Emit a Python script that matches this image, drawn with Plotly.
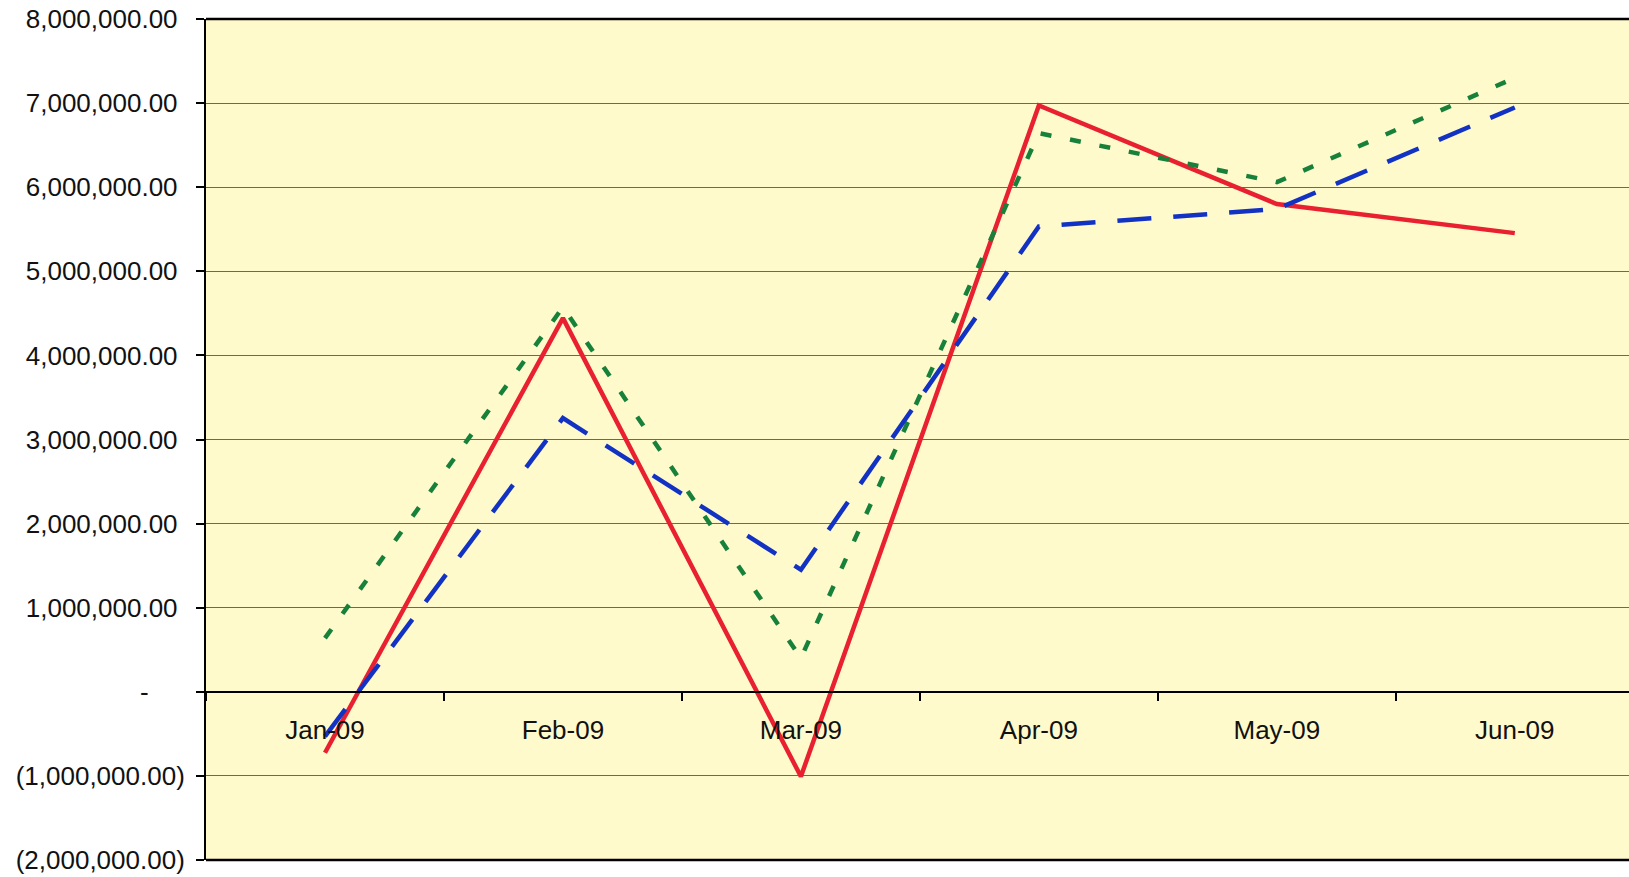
import plotly.graph_objects as go

months = ["Jan-09", "Feb-09", "Mar-09", "Apr-09", "May-09", "Jun-09"]
red_vals = [-725000, 4443000, -1007000, 6971000, 5800000, 5454000]
green_vals = [638000, 4574000, 400000, 6643000, 6060000, 7300000]
blue_vals = [-530000, 3254000, 1451000, 5533000, 5740000, 6948000]

ytick_vals = [8e6, 7e6, 6e6, 5e6, 4e6, 3e6, 2e6, 1e6, 0, -1e6, -2e6]
NB = "\u00a0"
ytick_text = [
    "8,000,000.00" + NB, "7,000,000.00" + NB, "6,000,000.00" + NB,
    "5,000,000.00" + NB, "4,000,000.00" + NB, "3,000,000.00" + NB,
    "2,000,000.00" + NB, "1,000,000.00" + NB, "-" + NB * 5,
    "(1,000,000.00)", "(2,000,000.00)",
]

fig = go.Figure()
fig.add_trace(go.Scatter(x=months, y=red_vals, mode="lines",
                         line=dict(color="#E8202F", width=4.5), name="Series 1"))
fig.add_trace(go.Scatter(x=months, y=green_vals, mode="lines",
                         line=dict(color="#17803A", width=4.5, dash="11px,19px"), name="Series 2"))
fig.add_trace(go.Scatter(x=months, y=blue_vals, mode="lines",
                         line=dict(color="#1232C4", width=4.5, dash="34px,22px"), name="Series 3"))

W, H = 1629, 877
fig.update_layout(
    width=W, height=H,
    margin=dict(l=206, r=0, t=19, b=17),
    paper_bgcolor="white",
    plot_bgcolor="#FFFACB",
    showlegend=False,
    font=dict(family="Liberation Sans, Arial, sans-serif", color="#111111"),
    xaxis=dict(
        type="category",
        range=[-0.5, 5.48],
        anchor="free",
        position=0.2,
        showline=True, linecolor="black", linewidth=2,
        ticks="outside", ticklen=8, tickwidth=1.5, tickcolor="black",
        tickson="boundaries",
        showgrid=False,
        tickfont=dict(size=26, color="#111111"),
        ticklabelstandoff=15,
    ),
    yaxis=dict(
        range=[-2e6, 8e6],
        tickvals=ytick_vals, ticktext=ytick_text,
        showline=True, linecolor="black", linewidth=2,
        ticks="outside", ticklen=8, tickwidth=1.5, tickcolor="black",
        showgrid=True, gridcolor="#6E6C44", gridwidth=1,
        zeroline=False,
        tickfont=dict(size=26, color="#111111"),
        ticklabelstandoff=6,
    ),
    shapes=[
        dict(type="line", xref="paper", yref="paper", x0=0, x1=1, y0=1, y1=1,
             line=dict(color="black", width=2.5)),
        dict(type="line", xref="paper", yref="paper", x0=0, x1=1, y0=0, y1=0,
             line=dict(color="black", width=2.5)),
    ],
)

fig.write_html("out.html", config={"displayModeBar": False},
               post_script="document.body.style.margin='0';document.body.style.overflow='hidden';")
